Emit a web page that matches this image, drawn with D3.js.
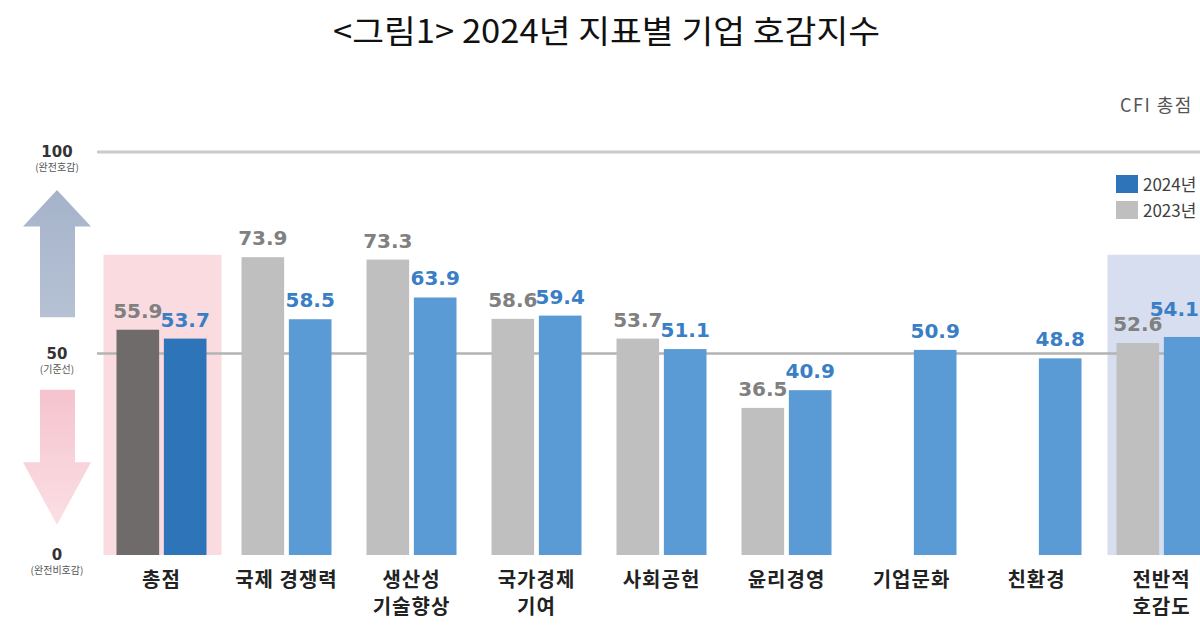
<!DOCTYPE html>
<html>
<head>
<meta charset="utf-8">
<script src="https://cdn.jsdelivr.net/npm/d3@7"></script>
<style>
    body { margin: 0; background: #fff; }
    svg { display: block; }
    .cat-labels { font-family: "Noto Sans CJK KR", sans-serif; font-weight: 700; font-size: 20px; fill: #222; }
    .value-labels { font-family: "DejaVu Sans", sans-serif; font-weight: 700; font-size: 20px; }
</style>
</head>
<body>
<svg id="chart"></svg>
<script>
// chart data
const categories = ["총점", "국제 경쟁력", "생산성\n기술향상", "국가경제\n기여", "사회공헌", "윤리경영", "기업문화", "친환경", "전반적\n호감도"];
const years = ["2023", "2024"];
const values2023 = [55.9, 73.9, 73.3, 58.6, 53.7, 36.5, null, null, 52.6];
const values2024 = [53.7, 58.5, 63.9, 59.4, 51.1, 40.9, 50.9, 48.8, 54.1];
const legendLabels = ["2024년", "2023년"];
const axisTicks = [100, 50, 0];
const axisNotes = ["(완전호감)", "(기준선)", "(완전비호감)"];

const width = 1200;
const height = 630;

const svg = d3.select("#chart")
    .attr("width", width)
    .attr("height", height);

// scales
const y = d3.scaleLinear().domain([0, 100]).range([555, 152]);
const x0 = d3.scaleBand().domain(categories).range([99, 1224]);
const x1 = d3.scaleBand().domain(years).range([-45, 45]).paddingInner(0.1);
const cx = d => x0(d) + x0.bandwidth() / 2;  // group centre

// gradients for the two arrows
const defs = svg.append("defs");
const upGrad = defs.append("linearGradient").attr("id", "upgrad")
    .attr("x1", 0).attr("y1", 0).attr("x2", 0).attr("y2", 1);
upGrad.append("stop").attr("offset", "0%").attr("stop-color", "#a5b3ca");
upGrad.append("stop").attr("offset", "100%").attr("stop-color", "#b6c1d4");
const downGrad = defs.append("linearGradient").attr("id", "downgrad")
    .attr("x1", 0).attr("y1", 0).attr("x2", 0).attr("y2", 1);
downGrad.append("stop").attr("offset", "0%").attr("stop-color", "#f5c3cd");
downGrad.append("stop").attr("offset", "100%").attr("stop-color", "#fbdfe5");

// title
svg.append("text")
    .attr("x", 333)
    .attr("y", 43)
    .attr("textLength", 547)
    .attr("lengthAdjust", "spacingAndGlyphs")
    .attr("font-family", "Noto Sans CJK KR")
    .attr("font-size", 32)
    .attr("font-weight", 400)
    .attr("fill", "#111")
    .text("<그림1> 2024년 지표별 기업 호감지수");

// highlight boxes behind 총점 and 전반적 호감도
const first = categories[0];
const last = categories[categories.length - 1];
svg.append("rect")
    .attr("x", cx(first) - 58).attr("y", y(74.5))
    .attr("width", 118).attr("height", y(0) - y(74.5))
    .attr("fill", "#fadbe0");
svg.append("rect")
    .attr("x", cx(last) - 54).attr("y", y(74.5))
    .attr("width", 140).attr("height", y(0) - y(74.5))
    .attr("fill", "#d6deef");

// reference lines at 100 and 50
svg.append("line")
    .attr("x1", 97).attr("x2", width)
    .attr("y1", y(100)).attr("y2", y(100))
    .attr("stroke", "#cbcbcb").attr("stroke-width", 3);
svg.append("line")
    .attr("x1", 97).attr("x2", width)
    .attr("y1", y(50)).attr("y2", y(50))
    .attr("stroke", "#b3b3b3").attr("stroke-width", 2.5);

// left side scale: numbers + notes
const axisG = svg.append("g");
axisG.selectAll("text.tick")
    .data(axisTicks)
    .enter().append("text")
    .attr("class", "tick")
    .attr("x", 57)
    .attr("y", d => y(d) + 5)
    .attr("text-anchor", "middle")
    .attr("font-family", "DejaVu Sans")
    .attr("font-weight", 700)
    .attr("font-size", 15)
    .attr("fill", "#333")
    .text(d => d);
axisG.selectAll("text.note")
    .data(axisTicks)
    .enter().append("text")
    .attr("class", "note")
    .attr("x", 57)
    .attr("y", d => y(d) + 19)
    .attr("text-anchor", "middle")
    .attr("font-family", "Noto Sans CJK KR")
    .attr("font-size", 10)
    .attr("fill", "#555")
    .text((d, i) => axisNotes[i]);

// arrows (shaft 40..75, head 23..91)
const arrowUp = d3.path();
arrowUp.moveTo(57, y(90.6));
arrowUp.lineTo(91, y(81.5));
arrowUp.lineTo(75, y(81.5));
arrowUp.lineTo(75, y(59));
arrowUp.lineTo(40, y(59));
arrowUp.lineTo(40, y(81.5));
arrowUp.lineTo(23, y(81.5));
arrowUp.closePath();
axisG.append("path").attr("d", arrowUp.toString()).attr("fill", "url(#upgrad)");

const arrowDown = d3.path();
arrowDown.moveTo(40, y(41));
arrowDown.lineTo(75, y(41));
arrowDown.lineTo(75, y(23));
arrowDown.lineTo(91, y(23));
arrowDown.lineTo(57, y(7.5));
arrowDown.lineTo(23, y(23));
arrowDown.lineTo(40, y(23));
arrowDown.closePath();
axisG.append("path").attr("d", arrowDown.toString()).attr("fill", "url(#downgrad)");

// bars
const rows = [];
categories.forEach((c, i) => {
    rows.push({ cat: c, year: "2023", value: values2023[i], idx: i });
    rows.push({ cat: c, year: "2024", value: values2024[i], idx: i });
});
const barData = rows.filter(d => d.value != null);

function barColor(d) {
    if (d.idx === 0) return d.year === "2023" ? "#6f6b6b" : "#2e74b8";
    return d.year === "2023" ? "#bfbfbf" : "#5b9bd5";
}

svg.append("g")
    .selectAll("rect")
    .data(barData)
    .enter().append("rect")
    .attr("x", d => cx(d.cat) + x1(d.year))
    .attr("y", d => y(d.value))
    .attr("width", x1.bandwidth())
    .attr("height", d => y(0) - y(d.value))
    .attr("fill", barColor);

// value labels; the last one sits at the right edge, so pull it inside
const lastIdx = categories.length - 1;
svg.append("g")
    .selectAll("text")
    .data(barData)
    .enter().append("text")
    .attr("class", "value-labels")
    .attr("x", d => (d.idx === lastIdx && d.year === "2024") ? width - 1 : cx(d.cat) + x1(d.year) + x1.bandwidth() / 2)
    .attr("y", d => (d.idx === lastIdx && d.year === "2024") ? y(d.value) - 21 : y(d.value) - 12)
    .attr("text-anchor", d => (d.idx === lastIdx && d.year === "2024") ? "end" : "middle")
    .attr("font-size", d => (d.idx === lastIdx && d.year === "2024") ? 16 : null)
    .attr("fill", d => d.year === "2023" ? "#808080" : "#3a7fc6")
    .text(d => d.value.toFixed(1));

// category labels (two lines where needed)
const catText = svg.append("g")
    .selectAll("text")
    .data(categories)
    .enter().append("text")
    .attr("class", "cat-labels")
    .attr("text-anchor", "middle")
    .attr("letter-spacing", 1)
    .attr("x", d => cx(d))
    .attr("y", 587);
catText.selectAll("tspan")
    .data(d => d.split("\n"))
    .enter().append("tspan")
    .attr("x", function () { return cx(d3.select(this.parentNode).datum()); })
    .attr("dy", (d, i) => i === 0 ? 0 : 27)
    .text(d => d);

// legend + CFI header in the top right corner
svg.append("text")
    .attr("x", 1120)
    .attr("y", 112)
    .attr("font-family", "Noto Sans CJK KR")
    .attr("font-size", 18)
    .attr("letter-spacing", 1.5)
    .attr("fill", "#555")
    .text("CFI 총점");

const legend = svg.append("g")
    .selectAll("g")
    .data(legendLabels)
    .enter().append("g")
    .attr("transform", (d, i) => `translate(1116, ${175 + i * 26})`);
legend.append("rect")
    .attr("width", 22)
    .attr("height", 18)
    .attr("fill", (d, i) => i === 0 ? "#2e74b8" : "#bfbfbf");
legend.append("text")
    .attr("x", 27)
    .attr("y", 16)
    .attr("font-family", "Noto Sans CJK KR")
    .attr("font-size", 17)
    .attr("fill", "#404040")
    .text(d => d);
</script>
</body>
</html>
